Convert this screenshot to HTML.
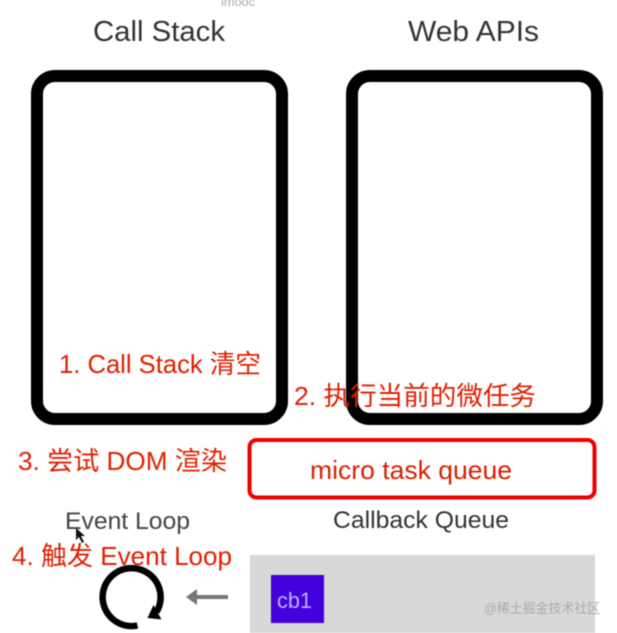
<!DOCTYPE html>
<html><head><meta charset="utf-8"><style>
html,body{margin:0;padding:0;background:#fff}
body{width:617px;height:633px;position:relative;overflow:hidden}
svg{position:absolute;left:0;top:0;filter:blur(.4px)}
text{font-family:"Liberation Sans","Noto Sans CJK SC",sans-serif}
</style></head><body>
<svg width="617" height="633" viewBox="0 0 617 633" xmlns="http://www.w3.org/2000/svg">
<rect width="617" height="633" fill="#fff"/>
<text x="221" y="6" font-size="12" fill="#aaa" textLength="34" lengthAdjust="spacingAndGlyphs">imooc</text>
<text x="93" y="41" font-size="29" fill="#333" textLength="132" lengthAdjust="spacingAndGlyphs">Call Stack</text>
<text x="408" y="41" font-size="29" fill="#333" textLength="131" lengthAdjust="spacingAndGlyphs">Web APIs</text>
<rect x="37" y="76" width="245" height="343" rx="18" fill="#fff" stroke="#000" stroke-width="12"/>
<rect x="352" y="76" width="245" height="343" rx="18" fill="#fff" stroke="#000" stroke-width="12"/>
<text x="59" y="373" font-size="26" fill="#e02000" textLength="202" lengthAdjust="spacingAndGlyphs">1. Call Stack 清空</text>
<text x="294" y="405" font-size="26" fill="#e02000" textLength="242" lengthAdjust="spacingAndGlyphs">2. 执行当前的微任务</text>
<text x="18" y="470" font-size="26" fill="#e02000" textLength="209" lengthAdjust="spacingAndGlyphs">3. 尝试 DOM 渲染</text>
<rect x="249.500" y="440" width="345" height="57.500" rx="7" fill="#fff" stroke="#ee0000" stroke-width="4"/>
<text x="310" y="479" font-size="26" fill="#d82000" textLength="202" lengthAdjust="spacingAndGlyphs">micro task queue</text>
<text x="65" y="529" font-size="24" fill="#444" textLength="125" lengthAdjust="spacingAndGlyphs">Event Loop</text>
<text x="333" y="528" font-size="24" fill="#333" textLength="176" lengthAdjust="spacingAndGlyphs">Callback Queue</text>
<text x="12" y="565" font-size="26" fill="#e02000" textLength="220" lengthAdjust="spacingAndGlyphs">4. 触发 Event Loop</text>
<rect x="250" y="555" width="345" height="78" fill="#d8d8d8"/>
<rect x="271" y="575" width="53" height="48" fill="#4400dd"/>
<text x="277" y="608" font-size="22" fill="#c0b0ff" textLength="35" lengthAdjust="spacingAndGlyphs">cb1</text>
<text x="484" y="613" font-size="13.500" fill="#aaa" textLength="116" lengthAdjust="spacingAndGlyphs">@稀土掘金技术社区</text>
<g transform="translate(1.500,0)">
<path d="M136 625.500 A29 29 0 1 1 155 612" fill="none" stroke="#000" stroke-width="6.500"/>
<path d="M146 618 L160 619.500 L152 605 Z" fill="#000"/>
</g>
<path d="M228 597 H192" stroke="#777" stroke-width="4" fill="none"/>
<path d="M186 597 L197 589 V605 Z" fill="#777"/>
<path d="M76 528 L76 540 L79 537 L82 543 L84 542 L81 536 L85 536 Z" fill="#111"/>
</svg>
</body></html>
